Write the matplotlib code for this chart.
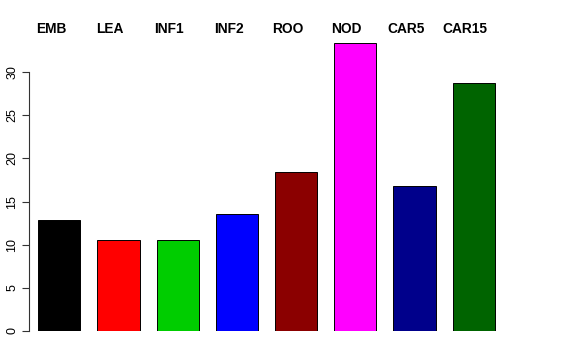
import matplotlib
matplotlib.use("Agg")
import matplotlib.pyplot as plt
import matplotlib.transforms as mtransforms

# values
labels = ["EMB", "LEA", "INF1", "INF2", "ROO", "NOD", "CAR5", "CAR15"]
values = [12.9, 10.55, 10.55, 13.55, 18.45, 33.4, 16.85, 28.7]
colors = ["black", "red", "#00CD00", "blue", "#8B0000", "magenta", "#00008B", "#006400"]
yticks = [0, 5, 10, 15, 20, 25, 30]

plt.rcParams['font.family'] = ['Liberation Sans', 'DejaVu Sans']

fig = plt.figure(figsize=(5.76, 3.6), dpi=100)
# axes placed in pixel terms: left 28.5px, right 504.5px, bottom at y=0 line (331px)
ax = fig.add_axes([28.5 / 576, 29 / 360, 476 / 576, 298 / 360])

space = 0.4
lefts = [space + i * (1 + space) for i in range(len(values))]
ax.bar(lefts, values, width=1.0, align="edge", color=colors,
       edgecolor="black", linewidth=0.7)

ax.set_xlim(0.17, 11.43)
ax.set_ylim(0, 34.55)

for s in ["top", "right", "bottom"]:
    ax.spines[s].set_visible(False)
ax.spines["left"].set_bounds(0, 30)
ax.spines["left"].set_linewidth(0.8)
ax.spines["left"].set_color("#333333")
ax.set_xticks([])
ax.set_yticks(yticks)
ax.set_yticklabels([str(t) for t in yticks], rotation=90, va="center", fontsize=9)
ax.tick_params(axis="y", length=5, width=0.8, pad=2.5, color="#333333")

# column labels above the plot
trans = mtransforms.blended_transform_factory(ax.transData, fig.transFigure)
for x, lab in zip(lefts, labels):
    ax.text(x + 0.3, 1 - 29 / 360, lab, transform=trans, ha="center", va="center",
            fontsize=9.9, fontweight="bold")

fig.savefig("out.png", dpi=100)
